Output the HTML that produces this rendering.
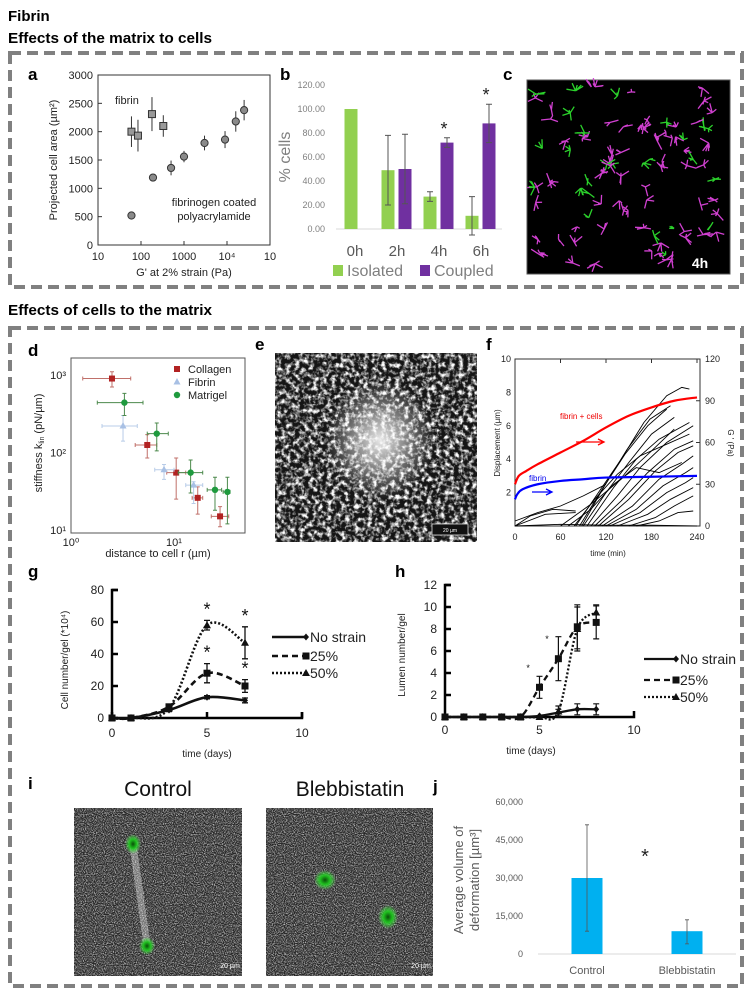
<!DOCTYPE html>
<html><head><meta charset="utf-8"><style>
html,body{margin:0;padding:0;background:#fff;}
svg{display:block;font-family:"Liberation Sans",sans-serif;}
</style></head><body>
<svg id="fig" width="745" height="990" viewBox="0 0 745 990" xmlns="http://www.w3.org/2000/svg">
<defs>
<filter id="noiseFib" x="0" y="0" width="100%" height="100%">
<feTurbulence type="fractalNoise" baseFrequency="0.22 0.22" numOctaves="3" seed="3"/>
<feColorMatrix type="matrix" values="0 0 0 0 1  0 0 0 0 1  0 0 0 0 1  3.0 0 0 0 -1.25"/>
</filter>
<filter id="noiseI" x="0" y="0" width="100%" height="100%">
<feTurbulence type="fractalNoise" baseFrequency="0.9" numOctaves="1" seed="7"/>
<feColorMatrix type="matrix" values="0 0 0 0 1  0 0 0 0 1  0 0 0 0 1  2.6 0 0 0 -1.05"/>
</filter>
<radialGradient id="glow" cx="0.5" cy="0.5" r="0.5">
<stop offset="0" stop-color="#fff" stop-opacity="0.9"/><stop offset="0.5" stop-color="#fff" stop-opacity="0.45"/><stop offset="1" stop-color="#fff" stop-opacity="0"/>
</radialGradient>
<radialGradient id="cellG" cx="0.5" cy="0.5" r="0.5">
<stop offset="0" stop-color="#0a4d0a"/><stop offset="0.45" stop-color="#1fc21f"/><stop offset="1" stop-color="#6f6" stop-opacity="0"/>
</radialGradient>
</defs>

<text x="8" y="21" font-size="15" font-weight="bold">Fibrin</text>
<text x="8" y="43" font-size="15" font-weight="bold" textLength="204" lengthAdjust="spacingAndGlyphs">Effects of the matrix to cells</text>
<rect x="10" y="53" width="732" height="234" fill="none" stroke="#808080" stroke-width="4" stroke-dasharray="11 6"/>
<text x="8" y="315" font-size="15" font-weight="bold" textLength="204" lengthAdjust="spacingAndGlyphs">Effects of cells to the matrix</text>
<rect x="10" y="328" width="732" height="658" fill="none" stroke="#808080" stroke-width="4" stroke-dasharray="11 6"/>

<g id="pa">
<text x="28" y="80" font-size="17" font-weight="bold">a</text>
<text x="57" y="160" font-size="11" fill="#222" text-anchor="middle" transform="rotate(-90 57 160)">Projected cell area (µm²)</text>
<text x="184" y="276" font-size="11" fill="#222" text-anchor="middle">G' at 2% strain (Pa)</text>
<text x="115" y="104" font-size="11" fill="#222">fibrin</text>
<text x="214" y="206" font-size="11" fill="#222" text-anchor="middle">fibrinogen coated</text>
<text x="214" y="220" font-size="11" fill="#222" text-anchor="middle">polyacrylamide</text>
</g>
<g id="pb">
<text x="280" y="80" font-size="17" font-weight="bold">b</text>
<text x="290" y="157" font-size="16" fill="#7f7f7f" text-anchor="middle" transform="rotate(-90 290 157)">% cells</text>
<rect x="333" y="265" width="10" height="11" fill="#92d050"/>
<text x="347" y="276" font-size="16" fill="#7f7f7f">Isolated</text>
<rect x="420" y="265" width="10" height="11" fill="#7030a0"/>
<text x="434" y="276" font-size="16" fill="#7f7f7f">Coupled</text>
</g>
<g id="pc">
<text x="503" y="80" font-size="17" font-weight="bold">c</text>
<rect x="527" y="80" width="203" height="194" fill="#000" stroke="#555"/>
</g>

<g id="pd">
<text x="28" y="356" font-size="17" font-weight="bold">d</text>
<text x="42" y="443" font-size="11" fill="#222" text-anchor="middle" transform="rotate(-90 42 443)">stiffness k<tspan font-size="7" dy="2">lin</tspan><tspan dy="-2"> (pN/µm)</tspan></text>
<text x="158" y="557" font-size="11" fill="#222" text-anchor="middle">distance to cell r (µm)</text>
</g>
<g id="pe">
<text x="255" y="350" font-size="17" font-weight="bold">e</text>
<rect x="275" y="353" width="202" height="189" fill="#151515"/>
<rect x="275" y="353" width="202" height="189" filter="url(#noiseFib)"/>
<ellipse cx="380" cy="440" rx="55" ry="60" fill="url(#glow)"/>
<rect x="432" y="524" width="36" height="11" fill="#111" stroke="#ddd" stroke-width="0.8"/>
<text x="450" y="532" font-size="5" fill="#fff" text-anchor="middle">20 µm</text>
</g>
<g id="pf">
<text x="486" y="350" font-size="17" font-weight="bold">f</text>
<text x="500" y="443" font-size="8" fill="#222" text-anchor="middle" transform="rotate(-90 500 443)">Displacement (µm)</text>
<text x="728" y="443" font-size="8" fill="#222" text-anchor="middle" transform="rotate(90 728 443)">G ' (Pa)</text>
<text x="608" y="556" font-size="8" fill="#222" text-anchor="middle">time (min)</text>
<text x="560" y="419" font-size="8" fill="#e00">fibrin + cells</text>
<text x="529" y="481" font-size="8" fill="#00e">fibrin</text>
</g>
<g id="pg">
<text x="28" y="577" font-size="17" font-weight="bold">g</text>
<text x="68" y="660" font-size="10" fill="#222" text-anchor="middle" transform="rotate(-90 68 660)">Cell number/gel (*10⁴)</text>
<text x="207" y="757" font-size="10" fill="#222" text-anchor="middle">time (days)</text>
</g>
<g id="ph">
<text x="395" y="577" font-size="17" font-weight="bold">h</text>
<text x="405" y="655" font-size="10" fill="#222" text-anchor="middle" transform="rotate(-90 405 655)">Lumen number/gel</text>
<text x="531" y="754" font-size="10" fill="#222" text-anchor="middle">time (days)</text>
</g>
<g id="pi">
<text x="28" y="789" font-size="17" font-weight="bold">i</text>
<text x="158" y="796" font-size="21" fill="#111" text-anchor="middle">Control</text>
<text x="350" y="796" font-size="21" fill="#111" text-anchor="middle">Blebbistatin</text>
<rect x="74" y="808" width="168" height="168" fill="#262626"/>
<rect x="74" y="808" width="168" height="168" filter="url(#noiseI)" opacity="0.75"/>
<path d="M133 845 Q140 895 147 945" stroke="#fff" stroke-width="7" opacity="0.35" fill="none"/>
<ellipse cx="133" cy="844" rx="8" ry="10" fill="url(#cellG)"/>
<ellipse cx="147" cy="946" rx="8" ry="9" fill="url(#cellG)"/>
<text x="230" y="968" font-size="7" fill="#fff" text-anchor="middle">20 µm</text>
<rect x="266" y="808" width="167" height="168" fill="#262626"/>
<rect x="266" y="808" width="167" height="168" filter="url(#noiseI)" opacity="0.75"/>
<ellipse cx="325" cy="880" rx="11" ry="10" fill="url(#cellG)"/>
<ellipse cx="388" cy="917" rx="10" ry="12" fill="url(#cellG)"/>
<text x="421" y="968" font-size="7" fill="#fff" text-anchor="middle">20 µm</text>
</g>
<g id="pj">
<text x="433" y="792" font-size="17" font-weight="bold">j</text>
<text x="463" y="880" font-size="13" fill="#595959" text-anchor="middle" transform="rotate(-90 463 880)">Average volume of</text>
<text x="479" y="880" font-size="13" fill="#595959" text-anchor="middle" transform="rotate(-90 479 880)">deformation  [µm³]</text>
</g>
</svg>
<script>
const NS='http://www.w3.org/2000/svg';
function mk(parent,tag,attrs,name){
  const el=document.createElementNS(NS,tag);
  for(const k in attrs) el.setAttribute(k,attrs[k]);
  
  
  document.getElementById(parent).appendChild(el);
  return el;
}
function txt(parent,x,y,s,size,fill,anchor,name){
  const t=mk(parent,'text',{x:x,y:y,'font-size':size,fill:fill,'text-anchor':anchor},name);
  t.textContent=s; return t;
}
function smooth(pts){
  let d='M'+pts[0][0]+' '+pts[0][1];
  for(let i=0;i<pts.length-1;i++){
    const p0=pts[Math.max(0,i-1)],p1=pts[i],p2=pts[i+1],p3=pts[Math.min(pts.length-1,i+2)];
    const c1x=p1[0]+(p2[0]-p0[0])/6,c1y=p1[1]+(p2[1]-p0[1])/6,c2x=p2[0]-(p3[0]-p1[0])/6,c2y=p2[1]-(p3[1]-p1[1])/6;
    d+=' C'+c1x+' '+c1y+' '+c2x+' '+c2y+' '+p2[0]+' '+p2[1];
  }
  return d;
}
function marker(parent,kind,x,y,name){
  if(kind==='sq') return mk(parent,'rect',{x:x-3.5,y:y-3.5,width:7,height:7,fill:'#111'},name);
  if(kind==='tr') return mk(parent,'path',{d:`M${x} ${y-4}L${x+4} ${y+3}L${x-4} ${y+3}Z`,fill:'#111'},name);
  return mk(parent,'path',{d:`M${x} ${y-3.5}L${x+3} ${y}L${x} ${y+3.5}L${x-3} ${y}Z`,fill:'#111'},name);
}

/* ---------- Panel a data ---------- */
const aFibrinX=[60,85,180,330];
const aFibrinY=[2000,1930,2310,2100];
const aFibrinErr=[270,280,300,190];
const aPaX=[60,190,500,1000,3000,9000,16000,25000];
const aPaY=[520,1190,1360,1560,1800,1860,2180,2380];
const aPaErr=[0,30,130,100,130,150,180,180];
const aYTicks=[0,500,1000,1500,2000,2500,3000];
const aXTicks=[10,100,1000,10000,100000];
const aXTickLabels=['10','100','1000','10⁴','10'];
(function(){
  const L=98,R=270,T=75,B=245;
  const xs=v=>L+(Math.log10(v)-1)*(R-L)/4, ys=v=>B-v*(B-T)/3000;
  mk('pa','rect',{x:L,y:T,width:R-L,height:B-T,fill:'none',stroke:'#333','stroke-width':1},'plot-frame-a');
  aYTicks.forEach(v=>{mk('pa','line',{x1:L,x2:L+4,y1:ys(v),y2:ys(v),stroke:'#333'},'y-tick-a');
    txt('pa',L-5,ys(v)+4,String(v),11,'#222','end','y-tick-label-a');});
  aXTicks.forEach((v,i)=>{mk('pa','line',{x1:xs(v),x2:xs(v),y1:B,y2:B-4,stroke:'#333'},'x-tick-a');
    txt('pa',xs(v),B+15,aXTickLabels[i],11,'#222','middle','x-tick-label-a');});
  aPaX.forEach((v,i)=>{ if(aPaErr[i]) mk('pa','line',{x1:xs(v),x2:xs(v),y1:ys(aPaY[i]-aPaErr[i]),y2:ys(aPaY[i]+aPaErr[i]),stroke:'#333'},'error-bar-a');
    mk('pa','circle',{cx:xs(v),cy:ys(aPaY[i]),r:3.6,fill:'#8a8a8a',stroke:'#333'},'point-polyacrylamide');});
  aFibrinX.forEach((v,i)=>{ mk('pa','line',{x1:xs(v),x2:xs(v),y1:ys(aFibrinY[i]-aFibrinErr[i]),y2:ys(aFibrinY[i]+aFibrinErr[i]),stroke:'#333'},'error-bar-a');
    mk('pa','rect',{x:xs(v)-3.5,y:ys(aFibrinY[i])-3.5,width:7,height:7,fill:'#999',stroke:'#333'},'point-fibrin');});
})();

/* ---------- Panel b data ---------- */
const bCats=['0h','2h','4h','6h'];
const bIsolated=[100,49,27,11];
const bIsolatedErr=[0,29,4,16];
const bCoupled=[0,50,72,88];
const bCoupledErr=[0,29,4,16];
const bYTicks=[0,20,40,60,80,100,120];
const bStars=['','','*','*'];
(function(){
  const L=336,R=502,B=229,T=85;
  const ys=v=>B-v*(B-T)/120, cx=i=>355+i*42;
  mk('pb','line',{x1:L,x2:R,y1:B,y2:B,stroke:'#d9d9d9'},'x-axis-b');
  bYTicks.forEach(v=>txt('pb',325,ys(v)+3,v.toFixed(2),9,'#7f7f7f','end','y-tick-label-b'));
  bCats.forEach((c,i)=>{
    const gx=i===0?cx(i)-9+5:cx(i)-9, px=cx(i)+8;
    if(bIsolated[i]>0) mk('pb','rect',{x:gx-6.5,y:ys(bIsolated[i]),width:13,height:B-ys(bIsolated[i]),fill:'#92d050'},'bar-isolated-'+c);
    if(bCoupled[i]>0) mk('pb','rect',{x:px-6.5,y:ys(bCoupled[i]),width:13,height:B-ys(bCoupled[i]),fill:'#7030a0'},'bar-coupled-'+c);
    if(bIsolatedErr[i]) {mk('pb','path',{d:`M${gx} ${ys(bIsolated[i]-bIsolatedErr[i])}V${ys(bIsolated[i]+bIsolatedErr[i])}M${gx-3} ${ys(bIsolated[i]-bIsolatedErr[i])}h6M${gx-3} ${ys(bIsolated[i]+bIsolatedErr[i])}h6`,stroke:'#555',fill:'none'},'error-bar-isolated');}
    if(bCoupledErr[i]) {mk('pb','path',{d:`M${px} ${ys(bCoupled[i]-bCoupledErr[i])}V${ys(bCoupled[i]+bCoupledErr[i])}M${px-3} ${ys(bCoupled[i]-bCoupledErr[i])}h6M${px-3} ${ys(bCoupled[i]+bCoupledErr[i])}h6`,stroke:'#555',fill:'none'},'error-bar-coupled');}
    if(bStars[i]) txt('pb',px-3,ys(bCoupled[i]+bCoupledErr[i])-3,'*',18,'#222','middle','significance-star-b');
    txt('pb',cx(i),B+27,c,15,'#595959','middle','x-tick-label-b');
  });
})();

/* ---------- Panel c decoration ---------- */
(function(){
  let s=12345; const rnd=()=>{s=(s*1103515245+12345)%2147483648; return s/2147483648;};
  for(let i=0;i<95;i++){
    const x=533+rnd()*190,y=86+rnd()*182,col=rnd()<0.72?'#d040d0':'#2bd12b';
    let d=''; const n=3+Math.floor(rnd()*3);
    for(let k=0;k<n;k++){const a=rnd()*6.28,l=3+rnd()*7; d+=`M${x} ${y}l${(Math.cos(a)*l).toFixed(1)} ${(Math.sin(a)*l).toFixed(1)}`;}
    mk('pc','path',{d:d,stroke:col,'stroke-width':1.3,fill:'none'},'cell-c');
  }
  txt('pc',700,268,'4h',14,'#fff','middle','time-label-4h').setAttribute('font-weight','bold');
})();

/* ---------- Panel d data ---------- */
const dCollagenX=[2.5,5.5,10.5,17,28];
const dCollagenY=[900,125,55,26,15];
const dCollagenXLo=[1.3,4.2,8.5,15,23]; const dCollagenXHi=[3.8,6.8,13,19,34];
const dCollagenYLo=[700,85,25,16,11]; const dCollagenYHi=[1100,170,85,36,20];
const dFibrinX=[3.2,8,15.5];
const dFibrinY=[220,60,38];
const dFibrinXLo=[2,6.5,13]; const dFibrinXHi=[4.4,10,19];
const dFibrinYLo=[140,45,22]; const dFibrinYHi=[300,70,42];
const dMatrigelX=[3.3,6.8,14.5,25,33];
const dMatrigelY=[440,175,55,33,31];
const dMatrigelXLo=[1.8,5.5,11,21,30]; const dMatrigelXHi=[5,8.8,19,29,35];
const dMatrigelYLo=[300,105,30,18,12]; const dMatrigelYHi=[580,240,80,48,48];
(function(){
  const L=71,R=245,T=358,B=533;
  const xs=v=>L+Math.log10(v)*103, ys=v=>530-(Math.log10(v)-1)*77.5;
  mk('pd','rect',{x:L,y:T,width:R-L,height:B-T,fill:'none',stroke:'#555'},'plot-frame-d');
  [[1,'10⁰'],[10,'10¹']].forEach(t=>txt('pd',xs(t[0]),546,t[1],11,'#222','middle','x-tick-label-d'));
  [[10,'10¹'],[100,'10²'],[1000,'10³']].forEach(t=>txt('pd',66,ys(t[0])+4,t[1],11,'#222','end','y-tick-label-d'));
  const series=[[dCollagenX,dCollagenY,dCollagenXLo,dCollagenXHi,dCollagenYLo,dCollagenYHi,'#b22222','#c0706a','sq','collagen'],
    [dFibrinX,dFibrinY,dFibrinXLo,dFibrinXHi,dFibrinYLo,dFibrinYHi,'#a8c0e4','#b8cce8','tri','fibrin'],
    [dMatrigelX,dMatrigelY,dMatrigelXLo,dMatrigelXHi,dMatrigelYLo,dMatrigelYHi,'#1f9a3e','#4d8a4d','ci','matrigel']];
  series.forEach(s=>{
    s[0].forEach((v,i)=>{
      const x=xs(v),y=ys(s[1][i]);
      mk('pd','path',{d:`M${xs(s[2][i])} ${y}H${xs(s[3][i])}M${x} ${ys(s[4][i])}V${ys(s[5][i])}M${xs(s[2][i])} ${y-2}v4M${xs(s[3][i])} ${y-2}v4M${x-2} ${ys(s[4][i])}h4M${x-2} ${ys(s[5][i])}h4`,stroke:s[7],'stroke-width':1,fill:'none'},'error-bar-'+s[9]);
      if(s[8]==='sq') mk('pd','rect',{x:x-3,y:y-3,width:6,height:6,fill:s[6]},'point-'+s[9]);
      else if(s[8]==='tri') mk('pd','path',{d:`M${x} ${y-4}L${x+3.5} ${y+2.5}L${x-3.5} ${y+2.5}Z`,fill:s[6]},'point-'+s[9]);
      else mk('pd','circle',{cx:x,cy:y,r:3.2,fill:s[6]},'point-'+s[9]);
    });
  });
  mk('pd','rect',{x:174,y:366,width:6,height:6,fill:'#b22222'},'legend-collagen-marker');
  txt('pd',188,373,'Collagen',11,'#222','start','legend-collagen');
  mk('pd','path',{d:'M177 378L180.5 384.5L173.5 384.5Z',fill:'#a8c0e4'},'legend-fibrin-marker');
  txt('pd',188,386,'Fibrin',11,'#222','start','legend-fibrin');
  mk('pd','circle',{cx:177,cy:395,r:3.2,fill:'#1f9a3e'},'legend-matrigel-marker');
  txt('pd',188,399,'Matrigel',11,'#222','start','legend-matrigel');
})();

/* ---------- Panel f data ---------- */
const fTimeTicks=[0,60,120,180,240];
const fLeftTicks=[2,4,6,8,10];
const fRightTicks=[0,30,60,90,120];
const fRedT=[0,5,15,30,60,90,120,150,180,210,240];
const fRedY=[2.5,3.0,3.3,3.7,4.4,5.1,5.9,6.6,7.1,7.5,7.7];
const fBlueT=[0,3,10,30,60,90,120,180,240];
const fBlueY=[1.6,1.9,2.2,2.5,2.7,2.8,2.9,2.95,3.0];
const fTraces=[
[[0,0.3],[30,0.8],[60,1.2],[90,1.8],[120,2.5]],
[[0,0],[20,0.6],[50,1.0],[80,0.9]],
[[0,0],[40,0.7],[80,0.8]],
[[80,0],[110,2],[140,4],[170,6.2],[200,7.8],[220,8.3],[230,8.2]],
[[85,0],[115,2.2],[145,4.3],[175,6],[200,7]],
[[88,0],[118,2.4],[148,4.6],[178,6.4],[205,7.2]],
[[90,0],[120,2],[150,3.8],[180,5.5],[210,6.5]],
[[95,0],[130,2.3],[160,4],[190,5.2],[230,6.2]],
[[100,0],[135,1.8],[165,3.5],[200,5],[235,6]],
[[105,0],[140,1.5],[175,3.2],[210,4.6],[235,5.1]],
[[110,0],[150,1.6],[185,3.3],[215,4.4],[235,4.8]],
[[115,0],[155,1.2],[190,2.8],[220,3.7],[235,4.2]],
[[120,0],[160,1],[195,2.4],[225,3.2],[235,3.5]],
[[125,0],[165,0.8],[200,2],[225,2.6],[235,2.9]],
[[135,0],[175,0.7],[205,1.6],[235,2.3]],
[[150,0],[185,0.5],[210,1.2],[235,1.8]],
[[160,0],[190,0.3],[215,0.8],[235,0.9]],
[[60,0],[100,1.3],[140,2.8],[180,4.5],[210,5.8]],
[[70,0],[100,1],[130,2.5],[160,3.5],[190,3.2],[220,3.8]],
[[78,0],[105,1.6],[135,3.1],[165,4.2],[200,4.9],[230,5.5]],
[[0,0],[60,0.1],[120,0.05],[180,0.05],[240,0]]
];
(function(){
  const L=515,R=700,T=359,B=526;
  const xs=v=>L+v*(697-515)/240, ys=v=>B-v*(B-T)/10, ysr=v=>B-v*(B-T)/120;
  mk('pf','rect',{x:L,y:T,width:R-L,height:B-T,fill:'none',stroke:'#333'},'plot-frame-f');
  fTimeTicks.forEach(v=>{mk('pf','line',{x1:xs(v),x2:xs(v),y1:T,y2:T+4,stroke:'#333'},'x-tick-f');
    txt('pf',xs(v),540,String(v),9,'#222','middle','x-tick-label-f');});
  fLeftTicks.forEach(v=>txt('pf',L-4,ys(v)+3,String(v),9,'#222','end','y-tick-label-f-left'));
  fRightTicks.forEach(v=>{mk('pf','line',{x1:R,x2:R-4,y1:ysr(v),y2:ysr(v),stroke:'#333'},'y-tick-f-right');
    txt('pf',R+5,ysr(v)+3,String(v),9,'#222','start','y-tick-label-f-right');});
  fTraces.forEach(tr=>mk('pf','path',{d:tr.map((p,i)=>(i?'L':'M')+xs(p[0]).toFixed(1)+' '+ys(p[1]).toFixed(1)).join(''),stroke:'#000','stroke-width':0.9,fill:'none'},'displacement-trace'));
  mk('pf','path',{d:smooth(fRedT.map((t,i)=>[xs(t),ys(fRedY[i])])),stroke:'#f00','stroke-width':2.2,fill:'none'},'line-fibrin-cells');
  mk('pf','path',{d:smooth(fBlueT.map((t,i)=>[xs(t),ys(fBlueY[i])])),stroke:'#0000ff','stroke-width':2.2,fill:'none'},'line-fibrin');
  mk('pf','path',{d:'M576 442H604M598 439L604 442L598 445',stroke:'#f00','stroke-width':1.3,fill:'none'},'arrow-fibrin-cells');
  mk('pf','path',{d:'M532 492H552M546 489L552 492L546 495',stroke:'#00f','stroke-width':1.3,fill:'none'},'arrow-fibrin');
})();

/* ---------- Panel g data ---------- */
const gDays=[0,1,3,5,7];
const gNoStrain=[0,0,5,13,11];
const gNoStrainErr=[0,0,1,1,1.5];
const g25=[0,0,7,28,20];
const g25Err=[0,0,1,6,4];
const g50=[0,0,6,58,47];
const g50Err=[0,0,1,3,10];
const gYTicks=[0,20,40,60,80];
const gXTicks=[0,5,10];
(function(){
  const L=112,R=302,B=718,T=590;
  const xs=v=>L+v*19, ys=v=>B-v*(B-T)/80;
  mk('pg','path',{d:`M${L+6} ${T}H${L}V${B}H${R}V${B-6}`,stroke:'#000','stroke-width':2.5,fill:'none'},'axes-g');
  gYTicks.forEach(v=>{mk('pg','line',{x1:L,x2:L+6,y1:ys(v),y2:ys(v),stroke:'#000','stroke-width':2.5},'y-tick-g');
    txt('pg',L-8,ys(v)+4,String(v),12,'#222','end','y-tick-label-g');});
  gXTicks.forEach(v=>{mk('pg','line',{x1:xs(v),x2:xs(v),y1:B,y2:B-6,stroke:'#000','stroke-width':2.5},'x-tick-g');
    txt('pg',xs(v),737,String(v),12,'#222','middle','x-tick-label-g');});
  const S=[[gNoStrain,gNoStrainErr,'none','no-strain','di'],[g25,g25Err,'6 4','25pct','sq'],[g50,g50Err,'2 2','50pct','tr']];
  S.forEach(s=>{
    mk('pg','path',{d:smooth(gDays.map((d,i)=>[xs(d),ys(s[0][i])])),stroke:'#111','stroke-width':2.6,fill:'none','stroke-dasharray':s[2]},'line-g-'+s[3]);
    gDays.forEach((d,i)=>{const x=xs(d),y=ys(s[0][i]);
      if(s[1][i]>0.5) mk('pg','path',{d:`M${x} ${ys(s[0][i]-s[1][i])}V${ys(s[0][i]+s[1][i])}M${x-3} ${ys(s[0][i]-s[1][i])}h6M${x-3} ${ys(s[0][i]+s[1][i])}h6`,stroke:'#111','stroke-width':1.3,fill:'none'},'error-bar-g');
      marker('pg',s[4],x,y,'point-g-'+s[3]);});
  });
  [[5,g50[3]+g50Err[3]],[7,g50[4]+g50Err[4]],[5,g25[3]+g25Err[3]],[7,g25[4]+g25Err[4]]].forEach(p=>txt('pg',xs(p[0]),ys(p[1])-5,'*',18,'#111','middle','significance-star-g'));
  const lg=[['No strain','none','di',637],['25%','6 4','sq',656],['50%','2 2','tr',673]];
  lg.forEach(l=>{mk('pg','line',{x1:272,x2:306,y1:l[3],y2:l[3],stroke:'#111','stroke-width':2.6,'stroke-dasharray':l[1]},'legend-line-g');
    marker('pg',l[2],306,l[3],'legend-marker-g');
    txt('pg',310,l[3]+5,l[0],14,'#222','start','legend-label-g');});
})();

/* ---------- Panel h data ---------- */
const hDays=[0,1,2,3,4,5,6,7,8];
const hNoStrain=[0,0,0,0,0,0.1,0.4,0.7,0.7];
const hNoStrainErr=[0,0,0,0,0,0,0.3,0.5,0.5];
const h25=[0,0,0,0,0,2.7,5.3,8.2,8.6];
const h25Err=[0,0,0,0,0,1,2,2,1.5];
const h50=[0,0,0,0,0,0,0.5,8,9.5];
const h50Err=[0,0,0,0,0,0,0.5,2,0.7];
const hYTicks=[0,2,4,6,8,10,12];
const hXTicks=[0,5,10];
(function(){
  const L=445,R=634,B=717,T=585;
  const xs=v=>L+v*18.9, ys=v=>B-v*11;
  mk('ph','path',{d:`M${L+6} ${T}H${L}V${B}H${R}V${B-6}`,stroke:'#000','stroke-width':2.5,fill:'none'},'axes-h');
  hYTicks.forEach(v=>{mk('ph','line',{x1:L,x2:L+6,y1:ys(v),y2:ys(v),stroke:'#000','stroke-width':2.5},'y-tick-h');
    txt('ph',L-8,ys(v)+4,String(v),12,'#222','end','y-tick-label-h');});
  hXTicks.forEach(v=>txt('ph',xs(v),734,String(v),12,'#222','middle','x-tick-label-h'));
  const S=[[hNoStrain,hNoStrainErr,'none','no-strain','di'],[h25,h25Err,'6 4','25pct','sq'],[h50,h50Err,'2 2','50pct','tr']];
  S.forEach(s=>{
    mk('ph','path',{d:smooth(hDays.map((d,i)=>[xs(d),ys(s[0][i])])),stroke:'#111','stroke-width':2.3,fill:'none','stroke-dasharray':s[2]},'line-h-'+s[3]);
    hDays.forEach((d,i)=>{const x=xs(d),y=ys(s[0][i]);
      if(s[1][i]>0) mk('ph','path',{d:`M${x} ${ys(s[0][i]-s[1][i])}V${ys(s[0][i]+s[1][i])}M${x-3} ${ys(s[0][i]-s[1][i])}h6M${x-3} ${ys(s[0][i]+s[1][i])}h6`,stroke:'#111','stroke-width':1.2,fill:'none'},'error-bar-h');
      marker('ph',s[4],x,y,'point-h-'+s[3]);});
  });
  txt('ph',xs(4.4),ys(4.2),'*',9,'#111','middle','significance-star-h');
  txt('ph',xs(5.4),ys(6.8),'*',9,'#111','middle','significance-star-h');
  const lg=[['No strain','none','di',659],['25%','6 4','sq',680],['50%','2 2','tr',697]];
  lg.forEach(l=>{mk('ph','line',{x1:644,x2:676,y1:l[3],y2:l[3],stroke:'#111','stroke-width':2.3,'stroke-dasharray':l[1]},'legend-line-h');
    marker('ph',l[2],676,l[3],'legend-marker-h');
    txt('ph',680,l[3]+5,l[0],14,'#222','start','legend-label-h');});
})();

/* ---------- Panel j data ---------- */
const jCats=['Control','Blebbistatin'];
const jValues=[30000,9000];
const jErrLo=[9000,4000];
const jErrHi=[51000,13500];
const jYTicks=[0,15000,30000,45000,60000];
const jYTickLabels=['0','15,000','30,000','45,000','60,000'];
(function(){
  const L=538,R=736,B=954,T=802;
  const ys=v=>B-v*(B-T)/60000, cx=i=>587+i*100;
  mk('pj','line',{x1:L,x2:R,y1:B,y2:B,stroke:'#d9d9d9'},'x-axis-j');
  jYTicks.forEach((v,i)=>txt('pj',523,ys(v)+3,jYTickLabels[i],9,'#595959','end','y-tick-label-j'));
  jCats.forEach((c,i)=>{
    mk('pj','rect',{x:cx(i)-15.5,y:ys(jValues[i]),width:31,height:B-ys(jValues[i]),fill:'#00b0f0'},'bar-'+c.toLowerCase());
    mk('pj','path',{d:`M${cx(i)} ${ys(jErrLo[i])}V${ys(jErrHi[i])}M${cx(i)-2} ${ys(jErrLo[i])}h4M${cx(i)-2} ${ys(jErrHi[i])}h4`,stroke:'#555','stroke-width':0.8,fill:'none'},'error-bar-j');
    txt('pj',cx(i),974,c,11,'#595959','middle','x-tick-label-j');
  });
  txt('pj',645,863,'*',20,'#222','middle','significance-star-j');
})();
</script>
</body></html>
